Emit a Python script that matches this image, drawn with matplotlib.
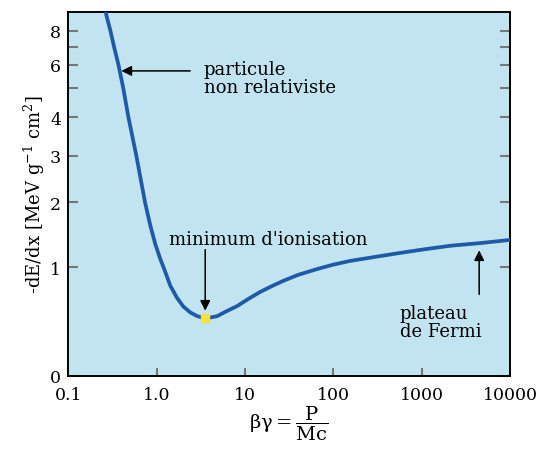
import numpy as np
import matplotlib
matplotlib.use('Agg')
import matplotlib.pyplot as plt

plt.rcParams['font.family'] = ['DejaVu Serif']
plt.rcParams['mathtext.fontset'] = 'dejavuserif'

# curve (beta*gamma, -dE/dx)
bg = [0.265, 0.30, 0.33, 0.37, 0.42, 0.48, 0.59, 0.74, 0.85, 0.97, 1.10, 1.25,
      1.43, 1.7, 2.0, 2.4, 2.88, 3.2, 3.55, 4.2, 4.85, 6.0, 8.2, 11, 14.9, 20,
      27, 40, 66, 100, 155, 300, 570, 1000, 2100, 4500, 10000]
dedx = [9.6, 8.0, 7.0, 6.0, 5.0, 4.0, 3.0, 2.0, 1.64, 1.35, 1.13, 0.96,
        0.83, 0.72, 0.64, 0.585, 0.55, 0.54, 0.534, 0.54, 0.55, 0.59, 0.644, 0.71, 0.773, 0.825,
        0.874, 0.93, 0.984, 1.04, 1.097, 1.16, 1.22, 1.27, 1.33, 1.37, 1.42]

x_min = 3.55
y_min = 0.534

x_ticks = [0.1, 1, 10, 100, 1000, 10000]
x_labels = ['0.1', '1.0', '10', '100', '1000', '10000']
y_ticks = [0, 1, 2, 3, 4, 5, 6, 7, 8]
y_labels = ['0', '1', '2', '3', '4', '', '6', '', '8']

# the vertical axis of the original is not linear: rebuild its spacing
y_knots = [0, 1, 2, 3, 4, 5, 6, 7, 8, 9.3]
y_height = [0, 108.7, 173.7, 220.3, 258.7, 287.7, 311.3, 329.3, 345.3, 363.7]


def fwd(y):
    return np.interp(y, y_knots, y_height)


def inv(h):
    return np.interp(h, y_height, y_knots)


fig = plt.figure(figsize=(5.41, 4.52), dpi=100)
ax = fig.add_axes([0.126, 0.166, 0.817, 0.805])
ax.set_facecolor('#c2e4f1')

ax.set_xscale('log')
ax.set_yscale('function', functions=(fwd, inv))
ax.set_xlim(0.1, 10000)
ax.set_ylim(0, 9.3)

ax.plot(bg, dedx, color='#1f5aa8', linewidth=2.7, solid_capstyle='round',
        solid_joinstyle='round', zorder=3)
ax.plot([x_min], [y_min], marker='s', markersize=5.5, color='#f2e23a',
        markeredgecolor='#f2e23a', zorder=4)

ax.set_xticks(x_ticks)
ax.set_xticklabels(x_labels)
ax.minorticks_off()
ax.set_yticks(y_ticks)
ax.set_yticklabels(y_labels)
ax.tick_params(axis='x', direction='in', length=6, width=1.5, color='#777777',
               labelsize=12.5, pad=7)
ax.tick_params(axis='y', direction='in', length=7, width=1.5, color='#777777',
               labelsize=12.5, right=True, pad=5)
for s in ax.spines.values():
    s.set_linewidth(1.4)

ax.set_ylabel(r'-dE/dx [MeV g$^{\mathregular{-1}}$ cm$^{\mathregular{2}}$]', fontsize=13, labelpad=2)
ax.set_xlabel(r'$\mathrm{\beta\gamma} = \dfrac{\mathrm{P}}{\mathrm{Mc}}$', fontsize=14, labelpad=1)

arrow = dict(arrowstyle='-|>', color='black', lw=1.1, mutation_scale=15)

ax.text(3.4, 5.45, 'particule\nnon relativiste', ha='left', va='center',
        fontsize=13, linespacing=1.0)
ax.annotate('', xy=(0.40, 5.73), xytext=(2.4, 5.73),
            arrowprops=dict(arrow, shrinkA=0, shrinkB=0))

ax.text(18.5, 1.43, "minimum d'ionisation", ha='center', va='center', fontsize=13)
ax.annotate('', xy=(x_min, 0.6), xytext=(x_min, 1.27),
            arrowprops=dict(arrow, shrinkA=0, shrinkB=0))

ax.text(560, 0.5, 'plateau\nde Fermi', ha='left', va='center',
        fontsize=13, linespacing=1.0)
ax.annotate('', xy=(4460, 1.26), xytext=(4460, 0.75),
            arrowprops=dict(arrow, shrinkA=0, shrinkB=0))

fig.savefig('out.png', dpi=100, facecolor='white')
